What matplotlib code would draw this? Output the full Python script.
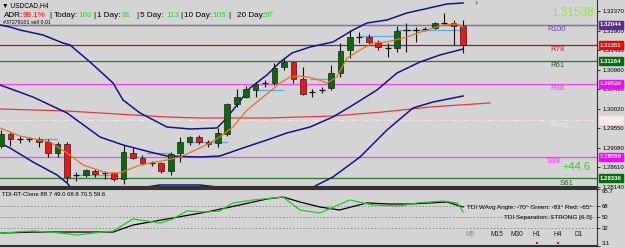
import matplotlib
matplotlib.use("Agg")
import matplotlib.pyplot as plt
from matplotlib.patches import Rectangle

plt.rcParams['font.family'] = ['Liberation Sans', 'DejaVu Sans']

W, H = 625, 248
BG = "#d4d4d4"

# USDCAD H4 candles, oldest first
opens = [1.29117, 1.29407, 1.29286, 1.29274, 1.29286, 1.29214, 1.28949, 1.29166, 1.28419, 1.28419,
         1.28515, 1.28467, 1.28467, 1.28322, 1.28949, 1.28828, 1.28708, 1.28708, 1.28515, 1.28949,
         1.29214, 1.29334, 1.29214, 1.29190, 1.29407, 1.30130, 1.30298, 1.30467, 1.30636, 1.30636,
         1.31021, 1.31142, 1.30732, 1.30419, 1.30467, 1.30515, 1.30877, 1.31431, 1.31744, 1.31744,
         1.31600, 1.31479, 1.31479, 1.31913, 1.31913, 1.31937, 1.31961, 1.32082, 1.32082, 1.32009]
highs = [1.29503, 1.29455, 1.29358, 1.29334, 1.29334, 1.29286, 1.29214, 1.29214, 1.28491, 1.28563,
         1.28563, 1.28515, 1.28491, 1.29142, 1.29069, 1.28901, 1.28756, 1.28732, 1.28973, 1.29334,
         1.29358, 1.29383, 1.29262, 1.29551, 1.30154, 1.30491, 1.30563, 1.30660, 1.30708, 1.31118,
         1.31238, 1.31150, 1.31021, 1.30491, 1.30539, 1.31070, 1.31600, 1.31913, 1.31865, 1.31817,
         1.31672, 1.31600, 1.32009, 1.32082, 1.31985, 1.31985, 1.32106, 1.32323, 1.32154, 1.32154]
lows = [1.29069, 1.29117, 1.29190, 1.29214, 1.29093, 1.28852, 1.28852, 1.28250, 1.28274, 1.28370,
        1.28370, 1.28322, 1.28274, 1.28202, 1.28804, 1.28660, 1.28635, 1.28467, 1.28419, 1.28732,
        1.29142, 1.29166, 1.29093, 1.29093, 1.29358, 1.30057, 1.30274, 1.30298, 1.30539, 1.30588,
        1.30949, 1.30636, 1.30347, 1.30298, 1.30395, 1.30467, 1.30780, 1.31238, 1.31600, 1.31551,
        1.31431, 1.31262, 1.31383, 1.31383, 1.31624, 1.31889, 1.31937, 1.32034, 1.31551, 1.31359]
closes = [1.29407, 1.29286, 1.29280, 1.29270, 1.29214, 1.28949, 1.29166, 1.28370, 1.28412, 1.28539,
          1.28443, 1.28460, 1.28322, 1.28973, 1.28828, 1.28708, 1.28700, 1.28515, 1.28925, 1.29214,
          1.29334, 1.29214, 1.29166, 1.29431, 1.30130, 1.30298, 1.30491, 1.30612, 1.30630, 1.30997,
          1.31142, 1.30732, 1.30371, 1.30410, 1.30460, 1.30877, 1.31407, 1.31744, 1.31738, 1.31624,
          1.31503, 1.31470, 1.31889, 1.31905, 1.31920, 1.31942, 1.32082, 1.32075, 1.32009, 1.31551]

# bollinger bands (x = bar index)
bb_up_x = [-0.1, 0.95, 2.0, 4.45, 6.57, 7.32, 9.44, 11.88, 12.94, 14.74, 17.6, 20.04, 22.9, 23.75,
           25.03, 26.4, 28.2, 29.6, 30.86, 32.77, 35.2, 37.33, 38.81, 40.93, 43.05, 47.3, 49.0]
bb_up = [1.32034, 1.31985, 1.31913, 1.31793, 1.31600, 1.31551, 1.31142, 1.30636, 1.30226, 1.29913,
         1.29575, 1.29527, 1.29551, 1.29744, 1.30106, 1.30515, 1.30829, 1.31142, 1.31359, 1.31503,
         1.31624, 1.31913, 1.32082, 1.32154, 1.32323, 1.32540, 1.32564]
bb_mid_x = [-0.1, 3.39, 7.0, 10.5, 12.94, 15.8, 17.6, 21.1, 23.2, 25.66, 28.2, 30.33, 32.77, 35.2,
            37.33, 39.87, 42.0, 44.43, 46.55, 49.0]
bb_mid = [1.30588, 1.30298, 1.29913, 1.29334, 1.29142, 1.28973, 1.28876, 1.28852, 1.28876, 1.29069,
          1.29262, 1.29431, 1.29575, 1.29816, 1.30106, 1.30467, 1.30877, 1.31142, 1.31311, 1.31455]
bb_low_x = [-0.1, 0.95, 3.39, 5.94, 7.0, 7.63, 9.44, 12.62, 14.74, 16.86, 21.1, 22.9, 25.34, 28.53,
            31.18, 33.1, 35.2, 38.07, 40.93, 42.31, 43.69, 45.81, 49.0]
bb_low = [1.29190, 1.29069, 1.28732, 1.28419, 1.28226, 1.28057, 1.27864, 1.27912, 1.28105, 1.28178,
          1.28178, 1.28129, 1.27985, 1.27888, 1.27937, 1.28129, 1.28370, 1.28852, 1.29503, 1.29768,
          1.30033, 1.30178, 1.30322]

# fast EMA (orange)
ema_x = [-0.1, 2.0, 5.2, 7.0, 8.7, 11.24, 12.62, 14.74, 17.6, 19.0, 21.1, 22.16, 23.2, 24.6, 26.1,
         27.8, 29.6, 30.65, 31.7, 33.1, 34.6, 35.6, 36.7, 38.07, 39.45, 40.93, 43.05, 45.17, 46.87,
         48.36, 49.0]
ema = [1.29551, 1.29358, 1.29214, 1.28949, 1.28660, 1.28467, 1.28467, 1.28660, 1.28780, 1.28852,
       1.29069, 1.29190, 1.29334, 1.29575, 1.29985, 1.30298, 1.30636, 1.30780, 1.30804, 1.30756,
       1.30636, 1.30780, 1.31238, 1.31431, 1.31600, 1.31624, 1.31744, 1.31913, 1.32034, 1.32058,
       1.31985]

# slow MA (red)
ma_x = [-0.1, 3.39, 7.0, 10.5, 14.0, 17.6, 21.1, 28.2, 35.2, 40.5, 45.5, 48.7, 51.85]
ma = [1.30009, 1.29985, 1.29961, 1.29913, 1.29865, 1.29816, 1.29792, 1.29792, 1.29840, 1.29937,
      1.30057, 1.30106, 1.30154]

# short support/resistance segments (light blue)
seg_start = [4.14, 8.06, 15.48, 19.72, 27.15, 32.77, 38.07, 41.99]
seg_end = [5.94, 11.56, 17.92, 23.97, 29.9, 34.68, 41.99, 48.67]
seg_price = [1.29286, 1.28419, 1.28949, 1.29214, 1.30467, 1.30732, 1.31768, 1.31913]

# fibo pivot levels
level_names = ["R100", "R78", "R61", "R38", "Pivot", "S38", "S61"]
level_prices = [1.32044, 1.31551, 1.31164, 1.30620, 1.29740, 1.28860, 1.28336]
level_colors = ["#7a4fb0", "#a01c22", "#2a7a2a", "#ff40ff", "#f6e2e2", "#ff40ff", "#2a7a2a"]
level_text_colors = ["#7040b0", "#e02020", "#1e6b1e", "#ff30ff", "#f4eaea", "#ff30ff", "#1e6b1e"]
level_box_colors = ["#5b2c8f", "#ff0000", "#0b6b0b", "#ff00ff", "#ffe4e4", "#ff00ff", "#0b6b0b"]
level_text_px = [547, 550, 550, 550, 550, 547, 560]

price_ticks = [1.32370, 1.31900, 1.31430, 1.30960, 1.30490, 1.30020, 1.29550, 1.29080, 1.28610, 1.28140]

# TDI sub window
tdi_red_x = [0, 3.4, 11.9, 14.0, 18.2, 21.8, 25.3, 28.2, 29.9, 31.7, 33.8, 35.9, 38.8, 41.2, 43.4, 47.3, 49.0]
tdi_red = [24.2, 25.8, 25.8, 37.2, 48.6, 58.3, 69.7, 79.5, 82.7, 74.6, 66.5, 61.6, 73.0, 71.3, 71.3, 74.6, 66.5]
tdi_green_x = [0, 3.4, 6.3, 8.1, 9.8, 11.9, 14.0, 16.9, 18.2, 19.7, 21.8, 23.2, 24.6, 26.7, 29.9, 31.7,
               33.8, 37.0, 39.4, 42.3, 44.1, 46.9, 48.4, 49.0]
tdi_green = [24.2, 27.5, 24.2, 20.9, 24.2, 27.5, 46.95, 40.5, 46.95, 60.0, 58.3, 60.0, 73.0, 77.8,
             82.7, 61.6, 56.7, 77.8, 69.7, 68.1, 73.0, 76.2, 73.0, 58.3]
tdi_levels = [68, 50, 32]
tdi_ticks = [95.7, 68, 50, 32, 3.1]

adr_parts = [(4, "ADR:", "#000000"), (23, "99.1%", "#ff0000"), (49, "|", "#000000"),
             (54, "Today:", "#000000"), (78, "100", "#22dd22"), (93, "|", "#000000"),
             (97, "1 Day:", "#000000"), (122, "81", "#22dd22"), (136, "|", "#000000"),
             (140, "5 Day:", "#000000"), (166, "113", "#22dd22"), (180, "|", "#000000"),
             (184, "10 Day:", "#000000"), (212, "105", "#22dd22"), (228, "|", "#000000"),
             (237, "20 Day:", "#000000"), (265, "97", "#22dd22")]
timeframes = ["M5", "M15", "M30", "H1", "H4", "D1"]
tf_px = [470, 497, 517, 537, 558, 579]


def fx(px):
    return px / W


def fy(py):
    return 1 - py / H


fig = plt.figure(figsize=(W / 100, H / 100), dpi=100, facecolor=BG)

ax = fig.add_axes([0, fy(187), fx(597), 187 / H], facecolor=BG)
ax.set_xlim(-1 / 9.43, 596 / 9.43)
ax.set_ylim(1.28129, 1.32636)

for p, c in zip(level_prices, level_colors):
    if p == 1.29740:
        ax.axhline(p, color=c, lw=0.9, ls=(0, (5, 2, 1, 2)), zorder=1)
    else:
        ax.axhline(p, color=c, lw=0.9, zorder=1)
ax.axhline(level_prices[0], color="#858585", lw=1.0, ls=(0, (4, 2)), zorder=1)

ax.plot(ma_x, ma, color="#e83a3a", lw=0.9, zorder=2)
for s, e, p in zip(seg_start, seg_end, seg_price):
    ax.plot([s, e], [p, p], color="#5aaaf0", lw=0.9, zorder=2)
ax.plot(bb_up_x, bb_up, color="#14148c", lw=1.1, zorder=2)
ax.plot(bb_mid_x, bb_mid, color="#14148c", lw=1.1, zorder=2)
ax.plot(bb_low_x, bb_low, color="#14148c", lw=1.1, zorder=2)
ax.plot(ema_x, ema, color="#e8741e", lw=0.9, zorder=4)

for i, (o, hi, lo, c) in enumerate(zip(opens, highs, lows, closes)):
    ax.vlines(i, lo, hi, color="#101010", lw=0.8, zorder=3)
    if abs(c - o) < 0.00012:
        ax.hlines(o, i - 0.32, i + 0.32, color="#101010", lw=0.9, zorder=3)
    else:
        fc = "#0a6a0a" if c > o else "#ff1010"
        ax.add_patch(Rectangle((i - 0.3, min(o, c)), 0.6, abs(c - o), fc=fc, ec="#202020",
                               lw=0.5, zorder=3))

for name, p, tc, px in zip(level_names, level_prices, level_text_colors, level_text_px):
    ax.annotate(name, xy=(fx(px), p), xycoords=("figure fraction", "data"), xytext=(0, -1.0),
                textcoords="offset points", va="top", ha="left", fontsize=5.6, color=tc)

ax.yaxis.tick_right()
ax.set_yticks(price_ticks)
ax.set_yticklabels([f"{t:.5f}" for t in price_ticks])
ax.tick_params(axis="y", labelsize=4.3, length=2.5, width=0.6, color="#202020", pad=1.2)
ax.set_xticks([])
for p, bc in zip(level_prices, level_box_colors):
    ax.annotate(f"{p:.5f}", xy=(1, p), xycoords=("axes fraction", "data"), xytext=(2.2, 0),
                textcoords="offset points", va="center", ha="left", fontsize=4.3, color="white",
                fontweight="bold", annotation_clip=False,
                bbox=dict(boxstyle="square,pad=0.25", fc=bc, ec=bc))
for side in ["top", "left"]:
    ax.spines[side].set_visible(False)
ax.spines["right"].set_color("#333333")
ax.spines["bottom"].set_color("#333333")
ax.spines["bottom"].set_linewidth(1.5)

# TDI window
ax2 = fig.add_axes([0, fy(246), fx(597), 57 / H], facecolor=BG)
ax2.set_xlim(-1 / 9.43, 596 / 9.43)
ax2.set_ylim(3.1, 95.7)
for lv in tdi_levels:
    ax2.axhline(lv, color="#8a8a8a", lw=0.7, ls=(0, (1.5, 2)))
ax2.plot(tdi_red_x, tdi_red, color="#000000", lw=0.9)
ax2.plot(tdi_green_x, tdi_green, color="#22cc22", lw=0.9)
ax2.yaxis.tick_right()
ax2.set_yticks(tdi_ticks)
ax2.set_yticklabels(["95.7", "68", "50", "32", "3.1"])
ax2.tick_params(axis="y", labelsize=4.3, length=2.5, width=0.6, color="#202020", pad=1.2)
labels = ax2.get_yticklabels()
labels[0].set_va("top")
labels[-1].set_va("bottom")
ax2.set_xticks([])
ax2.spines["left"].set_visible(False)
for side in ["top", "bottom", "right"]:
    ax2.spines[side].set_color("#333333")
ax2.spines["top"].set_linewidth(1.5)
ax2.spines["bottom"].set_linewidth(1.5)

# header texts
fig.text(fx(2), fy(6), "\u25bc USDCAD,H4", fontsize=4.8, color="#000000", va="center", ha="left")
for px, txt, col in adr_parts:
    fig.text(fx(px), fy(15.5), txt, fontsize=5.9, color=col, va="center", ha="left")
fig.text(fx(3), fy(22.5), "#37279101 sell 0.01", fontsize=3.8, color="#000000", va="center", ha="left")
fig.text(fx(477), fy(3), "\u25bc", fontsize=4, color="#8a8a8a", va="center", ha="center")
fig.text(fx(594), fy(12.5), "1.31538", fontsize=8.5, color="#90f020", va="center", ha="right")
fig.text(fx(576), fy(167), "+44.6", fontsize=8, color="#33cc33", va="center", ha="center")

fig.text(fx(2), fy(195), "TDI-RT-Clone 88.7 49.0 68.8 70.5 59.6", fontsize=4.3, color="#000000",
         va="center", ha="left")
fig.text(fx(592), fy(207), "TDI WAvg Angle: -70\u00b0 Green: -83\u00b0 Red: -65\u00b0", fontsize=4.6,
         color="#000000", va="center", ha="right")
fig.text(fx(592), fy(217), "TDI Separation: STRONG [6.5]", fontsize=4.6, color="#000000",
         va="center", ha="right")
for name, px in zip(timeframes, tf_px):
    col = "#8a8a8a" if name == "M5" else "#202020"
    fig.text(fx(px), fy(234), name, fontsize=4.8, color=col, va="center", ha="center")
for px in [537, 558]:
    fig.add_artist(Rectangle((fx(px - 1), fy(244)), 2 / W, 2 / H, transform=fig.transFigure,
                             fc="#ff0000", ec="none"))

fig.savefig("out.png", dpi=100, facecolor=BG)
